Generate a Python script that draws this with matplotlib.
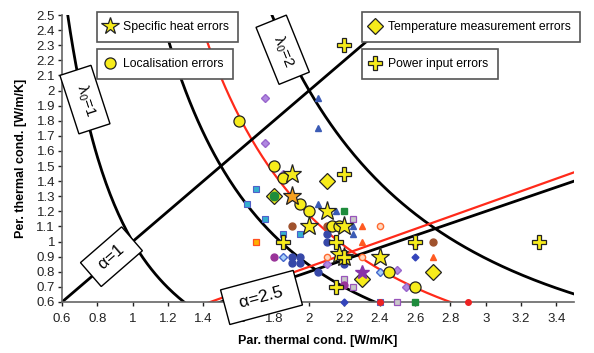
import numpy as np
import matplotlib.pyplot as plt
from matplotlib.lines import Line2D

plt.rcParams['font.family'] = ['Liberation Sans', 'DejaVu Sans']
plt.rcParams['mathtext.fontset'] = 'custom'
plt.rcParams['mathtext.rm'] = 'Liberation Sans'
plt.rcParams['mathtext.default'] = 'regular'

# model lines: lambda0^3 = par^2 * per, per = par / alpha
lambda0_black = [1.0, 1.5, 2.0]
lambda0_red = [4.7 ** (1 / 3)]
alpha_black = [1.0, 2.5]
alpha_red = [2.4]

# highlighted error cases (yellow)
heat_x = [1.9, 2.1, 2.2, 2.0, 2.2, 2.17, 2.4]
heat_y = [1.45, 1.2, 1.1, 1.1, 0.9, 0.92, 0.9]
heat_orange_x = [1.9]
heat_orange_y = [1.3]
heat_purple_x = [2.3]
heat_purple_y = [0.8]

loc_x = [1.6, 1.8, 1.85, 1.95, 2.0, 2.13, 2.17, 2.45, 2.6]
loc_y = [1.8, 1.5, 1.42, 1.25, 1.2, 1.1, 1.1, 0.8, 0.7]

temp_x = [2.1, 1.8, 2.3, 2.7]
temp_y = [1.4, 1.3, 0.75, 0.8]

power_x = [2.2, 2.2, 1.85, 2.15, 2.15, 2.6, 3.3, 2.2]
power_y = [2.3, 1.45, 1.0, 1.0, 0.7, 1.0, 1.0, 0.9]

# background cases (small markers)
lblue_sq_x = [1.7, 1.65, 1.75, 1.85, 1.95, 2.4]
lblue_sq_y = [1.35, 1.25, 1.15, 1.05, 1.05, 0.6]
gray_sq_x = [2.25, 2.2, 2.25, 2.5]
gray_sq_y = [1.15, 0.75, 0.7, 0.6]
orange_sq_x = [1.7]
orange_sq_y = [1.0]
green_sq_x = [2.2, 2.6]
green_sq_y = [1.2, 0.6]
green_ci_x = [1.8]
green_ci_y = [1.3]
blue_tri_x = [2.05, 2.05, 2.05, 2.15, 2.25, 2.25]
blue_tri_y = [1.95, 1.75, 1.25, 1.2, 1.1, 1.05]
orange_tri_x = [2.3, 2.3, 2.7, 2.6]
orange_tri_y = [1.1, 1.0, 0.9, 1.0]
purple_dia_x = [1.75, 1.75, 1.85, 2.5, 2.55, 2.1]
purple_dia_y = [1.95, 1.65, 1.45, 0.81, 0.7, 0.85]
lblue_dia_x = [1.85, 2.0, 2.4]
lblue_dia_y = [0.9, 1.1, 0.8]
blue_dia_x = [2.2, 2.6]
blue_dia_y = [0.6, 0.9]
orange_open_x = [2.4, 2.1, 2.3]
orange_open_y = [1.1, 0.9, 0.9]
blue_ci_x = [1.9, 1.9, 1.95, 1.95, 2.05, 2.1, 2.2, 2.1]
blue_ci_y = [0.9, 0.86, 0.9, 0.86, 0.8, 1.05, 0.85, 1.0]
brown_ci_x = [1.9, 2.1, 2.7]
brown_ci_y = [1.1, 1.1, 1.0]
purple_ci_x = [1.8, 2.2]
purple_ci_y = [0.9, 0.71]
red_ci_x = [2.4, 2.9]
red_ci_y = [0.6, 0.6]

yellow = '#F7EC1B'

fig = plt.figure(figsize=(5.94, 3.53), dpi=100)
ax = fig.add_axes([62 / 594, 51 / 353, 512 / 594, 287 / 353])

par = np.linspace(0.5, 3.6, 400)
for lam in lambda0_black:
    ax.plot(par, lam ** 3 / par ** 2, color='black', lw=2, zorder=2)
for lam in lambda0_red:
    ax.plot(par, lam ** 3 / par ** 2, color='#FF2A1A', lw=1.6, zorder=2)
for a in alpha_black:
    ax.plot(par, par / a, color='black', lw=2, zorder=2)
for a in alpha_red:
    ax.plot(par, par / a, color='#FF2A1A', lw=1.6, zorder=2)

small = dict(ls='none', ms=4.5, zorder=3, clip_on=False)
ax.plot(lblue_sq_x, lblue_sq_y, 's', mfc='#33B0D0', mec='#5060C8', mew=0.8, **small)
ax.plot(gray_sq_x, gray_sq_y, 's', mfc='#C8C8C8', mec='#9955BB', mew=0.9, **small)
ax.plot(orange_sq_x, orange_sq_y, 's', mfc='#FFB000', mec='#FF5020', mew=0.9, **small)
ax.plot(green_sq_x, green_sq_y, 's', mfc='#1E8C3C', mec='#1E8C3C', **small)
ax.plot(blue_tri_x, blue_tri_y, '^', mfc='#3B5BB5', mec='#3B5BB5', **small)
ax.plot(orange_tri_x, orange_tri_y, '^', mfc='#FF5A22', mec='#FF5A22', **small)
ax.plot(purple_dia_x, purple_dia_y, 'D', mfc='#B088E0', mec='#9966CC', ms=3.8, ls='none', zorder=3)
ax.plot(lblue_dia_x, lblue_dia_y, 'D', mfc='#A8D0F8', mec='#4466CC', ms=3.8, ls='none', zorder=3)
ax.plot(blue_dia_x, blue_dia_y, 'D', mfc='#3344BB', mec='#3344BB', ms=3.5, ls='none', zorder=3, clip_on=False)
ax.plot(orange_open_x, orange_open_y, 'o', mfc='#FFD8C0', mec='#FF6A30', mew=1, ms=4.5, ls='none', zorder=3)
ax.plot(blue_ci_x, blue_ci_y, 'o', mfc='#3748A8', mec='#3748A8', ms=5, ls='none', zorder=3)
ax.plot(brown_ci_x, brown_ci_y, 'o', mfc='#A0522D', mec='#A0522D', ms=5, ls='none', zorder=3)
ax.plot(purple_ci_x, purple_ci_y, 'o', mfc='#993399', mec='#993399', ms=5, ls='none', zorder=3)
ax.plot(red_ci_x, red_ci_y, 'o', mfc='#EE2222', mec='#EE2222', ms=4, ls='none', zorder=3, clip_on=False)

big = dict(ls='none', mec='#222222', mew=0.9, zorder=4)
ax.plot(temp_x, temp_y, 'D', mfc=yellow, ms=8, **big)
ax.plot(green_ci_x, green_ci_y, 'o', mfc='#1E8C3C', mec='#1E8C3C', ms=6, ls='none', zorder=4.5)
ax.plot(loc_x, loc_y, 'o', mfc=yellow, ms=8, **big)
ax.plot(heat_x, heat_y, '*', mfc=yellow, ms=14, **big)
ax.plot(heat_orange_x, heat_orange_y, '*', mfc='#F5A020', ms=14, **big)
ax.plot(heat_purple_x, heat_purple_y, '*', mfc='#8833AA', mec='#8833AA', ms=10, ls='none', zorder=4)
ax.plot(power_x, power_y, 'P', mfc=yellow, ms=10, **big)

ax.set_xlim(0.6, 3.5)
ax.set_ylim(0.6, 2.5)
xt = np.round(np.arange(0.6, 3.41, 0.2), 1)
yt = np.round(np.arange(0.6, 2.51, 0.1), 1)
ax.set_xticks(xt)
ax.set_xticklabels(['%g' % v for v in xt])
ax.set_yticks(yt)
ax.set_yticklabels(['%g' % v for v in yt])
ax.tick_params(labelsize=9.5, colors='#222222', length=3, width=1, pad=2)
ax.tick_params(axis='x', pad=5)
for s in ['top', 'right']:
    ax.spines[s].set_visible(False)
for s in ['left', 'bottom']:
    ax.spines[s].set_color('#666666')
    ax.spines[s].set_linewidth(1.2)

ax.set_xlabel('Par. thermal cond. [W/m/K]', fontsize=9, fontweight='bold', labelpad=7)
ax.set_ylabel('Per. thermal cond. [W/m/K]', fontsize=9, fontweight='bold', labelpad=7)

box = dict(boxstyle='square,pad=0.5', fc='white', ec='black', lw=1)
ax.text(0.73, 1.94, '  λ$_0$=1  ', rotation=-72, ha='center', va='center',
        rotation_mode='anchor', fontsize=11, bbox=box, zorder=6)
ax.text(1.85, 2.27, '  λ$_0$=2  ', rotation=-68, ha='center', va='center',
        rotation_mode='anchor', fontsize=11, bbox=box, zorder=6)
ax.text(0.88, 0.90, ' α=1 ', rotation=41, ha='center', va='center',
        rotation_mode='anchor', fontsize=12, bbox=box, zorder=6)
ax.text(1.73, 0.63, ' α=2.5 ', rotation=15, ha='center', va='center',
        rotation_mode='anchor', fontsize=12.5,
        bbox=dict(boxstyle='square,pad=0.6', fc='white', ec='black', lw=1),
        zorder=6, clip_on=False)

# four separate legend boxes
legends = [
    ('Specific heat errors', '*', 13, 97, 12),
    ('Localisation errors', 'o', 8, 97, 49),
    ('Temperature measurement errors', 'D', 8, 362, 12),
    ('Power input errors', 'P', 10, 362, 49),
]
for label, m, ms, px, py in legends:
    h = Line2D([], [], marker=m, ms=ms, mfc=yellow, mec='#222222', mew=0.9, ls='none')
    leg = fig.legend(handles=[h], labels=[label], loc='upper left',
                     bbox_to_anchor=(px / 594, 1 - py / 353), borderaxespad=0,
                     fontsize=8.8, fancybox=False, framealpha=1, edgecolor='#555555',
                     borderpad=0.75, handletextpad=0.7, handlelength=0.7)
    leg.get_frame().set_linewidth(1.2)
    leg.set_zorder(10)

fig.savefig('out.png', dpi=100)
